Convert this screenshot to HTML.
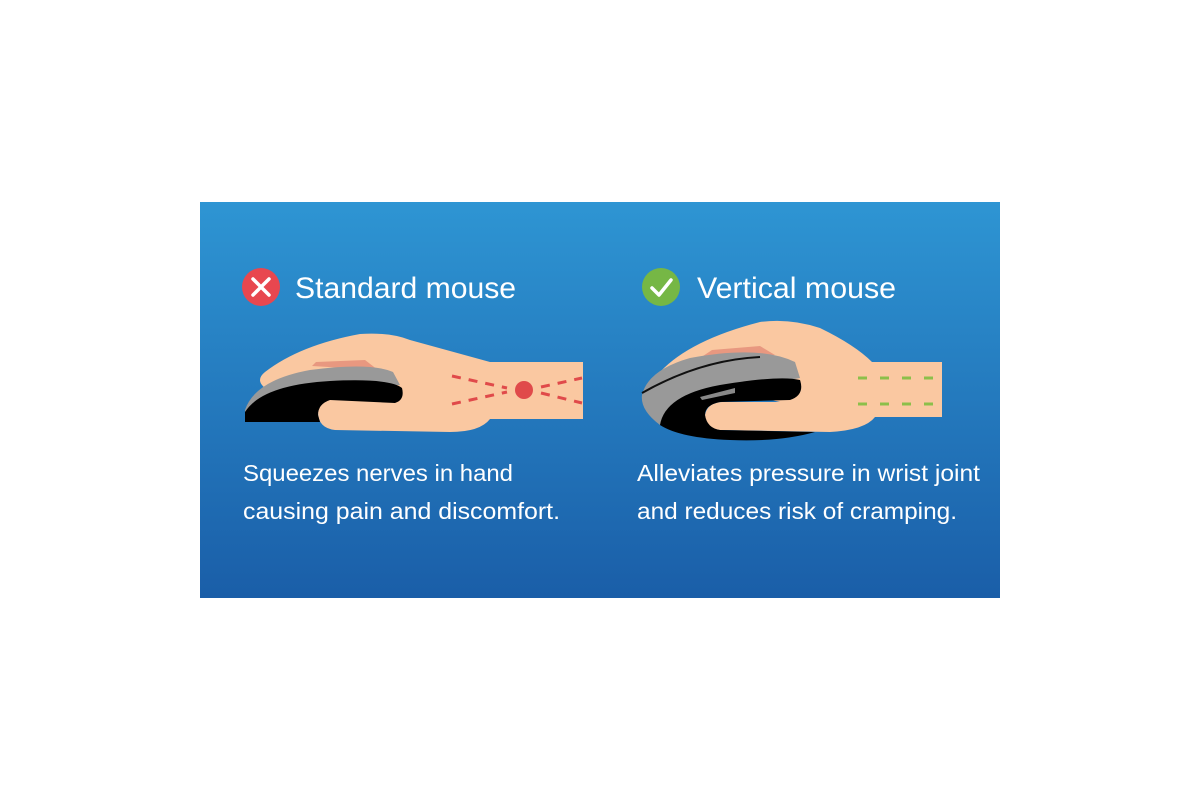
<!DOCTYPE html>
<html><head><meta charset="utf-8"><style>
html,body{margin:0;padding:0;background:#fff;width:1200px;height:800px;overflow:hidden}
svg{display:block}
text{font-family:"Liberation Sans",sans-serif;fill:#fff}
</style></head><body>
<svg width="1200" height="800" viewBox="0 0 1200 800">
<defs><linearGradient id="g" x1="0" y1="0" x2="0" y2="1">
<stop offset="0" stop-color="#2e95d3"/><stop offset="1" stop-color="#1a5ea8"/></linearGradient></defs>
<rect x="200" y="202" width="800" height="396" fill="url(#g)"/>
<circle cx="261" cy="287" r="19" fill="#e8474f"/>
<path d="M253 279 L269 295 M269 279 L253 295" stroke="#fff" stroke-width="3.5" stroke-linecap="round"/>
<text x="295" y="298" font-size="29.5" textLength="221" lengthAdjust="spacingAndGlyphs">Standard mouse</text>
<circle cx="661" cy="287" r="19" fill="#76b745"/>
<path d="M652 288 L659 295 L671 280" stroke="#fff" stroke-width="3.5" fill="none" stroke-linecap="round" stroke-linejoin="round"/>
<text x="697" y="298" font-size="29.5" textLength="199" lengthAdjust="spacingAndGlyphs">Vertical mouse</text>
<rect x="470" y="362" width="113" height="57" fill="#fac8a1"/>
<path d="M265 372 Q300 345 360 334 Q390 332 410 340 L490 362 L490 419 Q480 432 450 432 L335 430 Q318 428 318 412 Q320 400 335 398 L390 398 L265 388 Q255 380 265 372Z" fill="#fac8a1"/>
<path d="M312 366 L316 362 L365 360 L378 370 Z" fill="#e89880"/>
<path d="M245 410 Q255 380 310 370 Q370 362 393 372 L400 385 L290 390 L245 420Z" fill="#999"/>
<path d="M245 422 L245 412 Q262 385 330 381 Q390 378 402 388 Q405 400 395 403 L330 400 Q318 404 318 415 L320 422Z" fill="#000"/>
<g stroke="#e04a4a" stroke-width="3" stroke-dasharray="9 8" fill="none">
<path d="M452 376 L507 388"/><path d="M452 404 L507 392"/>
<path d="M541 387 L582 378"/><path d="M541 393 L582 403"/></g>
<circle cx="524" cy="390" r="9" fill="#e04a4a"/>
<rect x="860" y="362" width="82" height="55" fill="#fac8a1"/>
<path d="M660 372 Q690 340 760 322 Q790 318 820 328 Q855 345 872 362 L875 417 Q865 430 830 432 L720 430 Q705 428 705 415 Q707 403 722 402 L780 402 L660 375Z" fill="#fac8a1"/>
<path d="M700 358 L712 350 L760 346 L775 355 Z" fill="#e89880"/>
<path d="M642 395 Q648 370 690 358 Q760 345 795 362 L800 378 L680 400 L660 425 Q640 410 642 395Z" fill="#999"/>
<path d="M642 393 Q700 360 760 357" stroke="#111" stroke-width="2" fill="none"/>
<path d="M660 425 Q665 395 720 385 Q780 375 800 380 Q805 395 790 400 L720 402 Q705 405 705 415 Q707 428 720 430 L815 432 Q780 442 730 440 Q680 438 660 425Z" fill="#000"/>
<path d="M700 397 L735 388 L735 393 L702 400Z" fill="#888"/>
<g stroke="#8cbf4a" stroke-width="3" stroke-dasharray="9 13" fill="none">
<path d="M858 378 L938 378"/><path d="M858 404 L938 404"/></g>
<text x="243" y="481" font-size="23" textLength="270" lengthAdjust="spacingAndGlyphs">Squeezes nerves in hand</text>
<text x="243" y="519" font-size="23" textLength="317" lengthAdjust="spacingAndGlyphs">causing pain and discomfort.</text>
<text x="637" y="481" font-size="23" textLength="343" lengthAdjust="spacingAndGlyphs">Alleviates pressure in wrist joint</text>
<text x="637" y="519" font-size="23" textLength="320" lengthAdjust="spacingAndGlyphs">and reduces risk of cramping.</text>
</svg>
</body></html>
